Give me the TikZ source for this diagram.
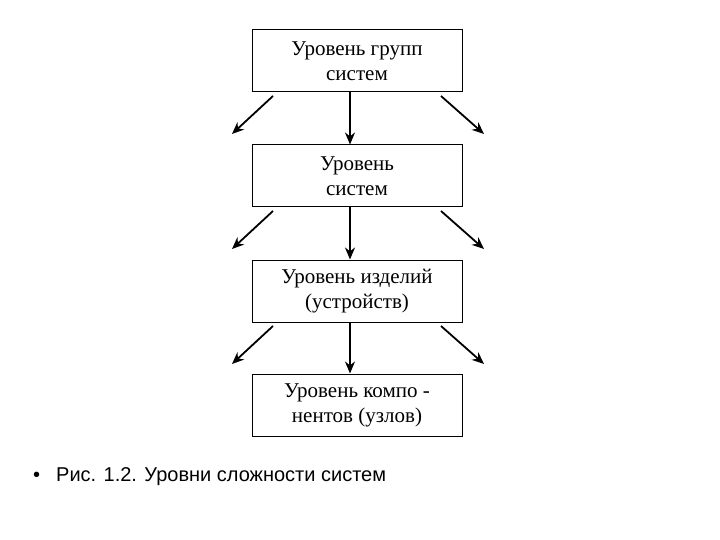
\documentclass[tikz,border=0pt]{standalone}
\usepackage{fontspec}
\setmainfont{Liberation Serif}
\newfontfamily\capfont{Liberation Sans}
\usetikzlibrary{arrows.meta}
\begin{document}
\begin{tikzpicture}[x=1pt,y=-1pt,
  lvl/.style={draw,line width=1pt,minimum width=210pt,minimum height=62pt,align=center,font=\fontsize{21}{25}\selectfont,inner sep=0pt},
  arr/.style={line width=1.8pt,-{Stealth[length=12pt,width=10pt]}}]
\useasboundingbox (0,0) rectangle (720,540);
\node[lvl] (b1) at (357,61) {Уровень групп\\систем};
\node[lvl] (b2) at (357,176) {Уровень\\систем};
\node[lvl] (b3) at (357,291) {Уровень изделий\\(устройств)};
\node[lvl] (b4) at (357,405) {Уровень компо -\\нентов (узлов)};
\foreach \a/\b/\y in {b1/b2/92,b2/b3/207,b3/b4/322}{
  \coordinate (ls\a) at (273,\y+4);
  \coordinate (le\a) at (232,\y+42);
  \coordinate (rs\a) at (441,\y+4);
  \coordinate (re\a) at (484,\y+42);
  \draw[arr] (ls\a) -- (le\a);
  \draw[arr] (rs\a) -- (re\a);
  \draw[arr] (\a.south -| 350,0) -- (\b.north -| 350,0);
}
\node[anchor=west,font=\capfont\fontsize{20}{24}\selectfont,inner sep=0pt] (cap) at (33,477) {•\hspace{16pt}Рис. 1.2. Уровни сложности систем};
\end{tikzpicture}
\end{document}
